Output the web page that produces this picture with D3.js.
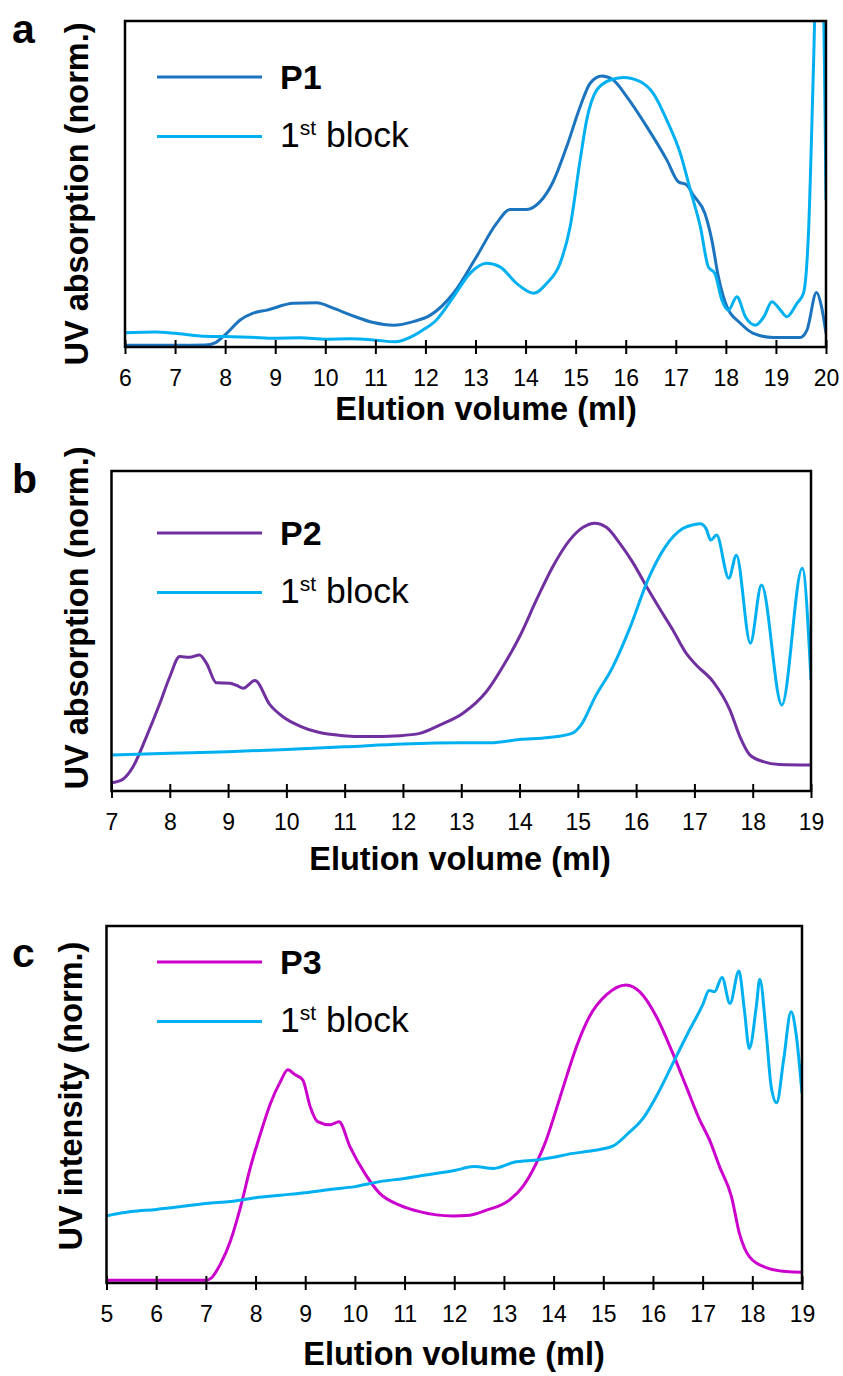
<!DOCTYPE html>
<html>
<head>
<meta charset="utf-8">
<script src="https://cdn.jsdelivr.net/npm/d3@7"></script>
<style>
  body { margin: 0; background: #fff; }
  text { font-family: "Liberation Sans", Arial, sans-serif; fill: #000; }
</style>
</head>
<body>
<div id="wrapper"></div>
<script>
// elution volume (ml) vs normalised UV signal
const aP1 = [[6.0,0.005],[7.0,0.005],[7.6,0.006],[7.8,0.013],[8.03,0.042],[8.3,0.083],[8.56,0.104],[8.83,0.113],[9.36,0.134],[9.83,0.136],[10.16,0.119],[10.56,0.095],[10.96,0.075],[11.36,0.067],[11.76,0.078],[12.09,0.097],[12.56,0.165],[13.02,0.277],[13.42,0.379],[13.69,0.422],[14.02,0.422],[14.29,0.446],[14.55,0.507],[14.82,0.614],[15.09,0.737],[15.29,0.809],[15.52,0.831],[15.75,0.819],[16.02,0.768],[16.42,0.676],[16.82,0.574],[17.05,0.507],[17.22,0.497],[17.35,0.466],[17.58,0.41],[17.72,0.328],[17.85,0.216],[18.02,0.124],[18.29,0.073],[18.55,0.042],[18.95,0.029],[19.48,0.029],[19.62,0.052],[19.81,0.167],[19.91,0.124],[20.0,0.042]];
const aBlock = [[6.0,0.044],[6.6,0.046],[7.0,0.042],[7.5,0.034],[8.0,0.032],[8.5,0.03],[9.0,0.027],[9.5,0.028],[10.0,0.024],[10.5,0.025],[11.0,0.021],[11.4,0.016],[11.7,0.03],[11.95,0.052],[12.22,0.083],[12.56,0.154],[12.89,0.226],[13.22,0.257],[13.49,0.246],[13.82,0.195],[14.16,0.165],[14.42,0.195],[14.69,0.257],[14.89,0.369],[15.09,0.574],[15.22,0.696],[15.42,0.788],[15.69,0.819],[15.95,0.827],[16.29,0.814],[16.55,0.778],[16.82,0.696],[17.09,0.594],[17.29,0.482],[17.49,0.369],[17.65,0.246],[17.78,0.226],[17.92,0.144],[18.05,0.113],[18.22,0.154],[18.39,0.093],[18.59,0.067],[18.76,0.093],[18.92,0.139],[19.09,0.113],[19.22,0.093],[19.42,0.134],[19.55,0.165],[19.65,0.349],[19.75,0.86],[19.84,1.35],[19.93,1.2],[20.0,0.45]];

const bP2 = [[7.0,0.026],[7.17,0.034],[7.37,0.076],[7.6,0.17],[7.83,0.274],[8.0,0.357],[8.17,0.42],[8.34,0.418],[8.51,0.425],[8.63,0.399],[8.8,0.338],[9.03,0.337],[9.15,0.33],[9.26,0.321],[9.46,0.345],[9.72,0.269],[9.94,0.232],[10.23,0.203],[10.52,0.185],[10.97,0.173],[11.37,0.17],[11.95,0.173],[12.29,0.18],[12.63,0.206],[13.03,0.243],[13.43,0.31],[13.78,0.409],[14.0,0.482],[14.29,0.597],[14.57,0.701],[14.86,0.784],[15.09,0.824],[15.29,0.837],[15.49,0.824],[15.72,0.774],[15.95,0.712],[16.18,0.638],[16.4,0.571],[16.63,0.503],[16.86,0.43],[17.03,0.394],[17.32,0.342],[17.61,0.253],[17.78,0.17],[17.95,0.113],[18.18,0.092],[18.46,0.083],[19.0,0.081]];
const bBlock = [[7.0,0.1125],[8.0,0.118],[9.0,0.123],[10.0,0.13],[11.0,0.138],[12.0,0.147],[13.0,0.151],[13.5,0.151],[14.0,0.161],[14.5,0.167],[14.9,0.18],[15.05,0.205],[15.3,0.295],[15.6,0.388],[15.9,0.513],[16.2,0.659],[16.5,0.763],[16.8,0.82],[17.0,0.833],[17.1,0.835],[17.2,0.82],[17.28,0.784],[17.38,0.8],[17.59,0.665],[17.72,0.737],[17.96,0.462],[18.15,0.644],[18.5,0.269],[18.85,0.696],[19.0,0.347]];

const cP3 = [[5.0,0.008],[6.0,0.008],[7.0,0.008],[7.1,0.013],[7.3,0.055],[7.5,0.12],[7.7,0.214],[7.9,0.326],[8.1,0.419],[8.3,0.503],[8.5,0.564],[8.65,0.597],[8.8,0.583],[8.95,0.569],[9.1,0.494],[9.25,0.452],[9.5,0.443],[9.68,0.452],[9.9,0.382],[10.2,0.307],[10.5,0.251],[10.9,0.218],[11.3,0.2],[11.97,0.188],[12.31,0.19],[12.65,0.204],[13.11,0.232],[13.38,0.27],[13.65,0.335],[13.85,0.4],[14.05,0.485],[14.26,0.578],[14.46,0.662],[14.72,0.746],[15.06,0.807],[15.46,0.835],[15.73,0.816],[16.07,0.746],[16.4,0.643],[16.67,0.55],[16.94,0.457],[17.14,0.4],[17.34,0.326],[17.58,0.242],[17.74,0.139],[17.94,0.074],[18.28,0.043],[18.68,0.032],[19.0,0.03]];
const cBlock = [[5.0,0.188],[5.5,0.2],[6.0,0.206],[6.5,0.214],[7.0,0.223],[7.5,0.228],[8.0,0.239],[8.5,0.246],[9.0,0.253],[9.5,0.262],[10.0,0.27],[10.5,0.284],[11.0,0.293],[11.3,0.3],[12.0,0.315],[12.4,0.326],[12.8,0.321],[13.2,0.338],[13.7,0.345],[14.0,0.352],[14.3,0.361],[14.8,0.371],[15.2,0.384],[15.5,0.419],[15.8,0.461],[16.1,0.531],[16.4,0.615],[16.7,0.699],[17.0,0.779],[17.13,0.819],[17.24,0.816],[17.39,0.856],[17.55,0.783],[17.73,0.874],[17.84,0.765],[17.94,0.657],[18.08,0.774],[18.15,0.851],[18.28,0.699],[18.38,0.55],[18.49,0.505],[18.63,0.625],[18.78,0.76],[18.88,0.699],[19.0,0.531]];

const seriesNames = ["P1", "P2", "P3"];
const blockName = "1st block";
const xTitle = "Elution volume (ml)";
const yTitles = ["UV absorption (norm.)", "UV absorption (norm.)", "UV intensity (norm.)"];
const xDomains = [[6, 20], [7, 19], [5, 19]];

const blockColor = "#00b0f0";

const panels = [
  { letter: "a", main: aP1, block: aBlock, color: "#1c74bf", name: seriesNames[0], yTitle: yTitles[0], dom: xDomains[0],
    left: 125, right: 826, top: 21, bottom: 347, letterY: 43, yTitleX: 88, yTitleY: 194, xTitleX: 486, xTitleY: 420, legY: 77 },
  { letter: "b", main: bP2, block: bBlock, color: "#7030a0", name: seriesNames[1], yTitle: yTitles[1], dom: xDomains[1],
    left: 111.5, right: 811, top: 471, bottom: 791, letterY: 493, yTitleX: 88, yTitleY: 618, xTitleX: 460, xTitleY: 870, legY: 533 },
  { letter: "c", main: cP3, block: cBlock, color: "#cc00cc", name: seriesNames[2], yTitle: yTitles[2], dom: xDomains[2],
    left: 106.5, right: 802, top: 926, bottom: 1283, letterY: 967, yTitleX: 82, yTitleY: 1096, xTitleX: 454, xTitleY: 1365, legY: 962 }
];

const width = 843, height = 1376;

const svg = d3.select("#wrapper").append("svg")
  .attr("width", width)
  .attr("height", height);

svg.append("rect").attr("width", width).attr("height", height).attr("fill", "#fff");

panels.forEach(function (p, i) {
  const x = d3.scaleLinear().domain(p.dom).range([p.left, p.right]);
  const y = d3.scaleLinear().domain([0, 1]).range([p.bottom, p.top]);

  svg.append("clipPath").attr("id", "clip" + i)
    .append("rect")
    .attr("x", p.left).attr("y", p.top)
    .attr("width", p.right - p.left).attr("height", p.bottom - p.top);

  const line = d3.line()
    .x(function (d) { return x(d[0]); })
    .y(function (d) { return y(d[1]); })
    .curve(d3.curveMonotoneX);

  const plot = svg.append("g").attr("clip-path", "url(#clip" + i + ")");
  plot.append("path").datum(p.main)
    .attr("d", line).attr("fill", "none")
    .attr("stroke", p.color).attr("stroke-width", 3)
    .attr("stroke-linejoin", "round");
  plot.append("path").datum(p.block)
    .attr("d", line).attr("fill", "none")
    .attr("stroke", blockColor).attr("stroke-width", 3)
    .attr("stroke-linejoin", "round");

  // frame
  svg.append("rect")
    .attr("x", p.left).attr("y", p.top)
    .attr("width", p.right - p.left).attr("height", p.bottom - p.top)
    .attr("fill", "none").attr("stroke", "#000").attr("stroke-width", 2.5);

  // x axis, ticks cross the frame
  const ax = svg.append("g")
    .attr("transform", "translate(0," + p.bottom + ")")
    .call(d3.axisBottom(x).tickValues(d3.range(p.dom[0], p.dom[1] + 1)).tickSize(7).tickFormat(d3.format("d")));
  ax.select(".domain").remove();
  ax.selectAll(".tick line").attr("y1", -7).attr("y2", 7).attr("stroke", "#000").attr("stroke-width", 2);
  ax.selectAll(".tick text")
    .attr("y", 39).attr("dy", null)
    .style("font-family", "'Liberation Sans', Arial, sans-serif")
    .style("font-size", "23px").attr("fill", "#000");

  svg.append("text")
    .attr("x", p.xTitleX).attr("y", p.xTitleY)
    .attr("text-anchor", "middle")
    .style("font-size", "32.5px").style("font-weight", "bold")
    .text(xTitle);

  svg.append("text")
    .attr("transform", "translate(" + p.yTitleX + "," + p.yTitleY + ") rotate(-90)")
    .attr("text-anchor", "middle")
    .style("font-size", "32.5px").style("font-weight", "bold")
    .text(p.yTitle);

  svg.append("text")
    .attr("x", 12).attr("y", p.letterY)
    .style("font-size", "41px").style("font-weight", "bold")
    .text(p.letter);

  // legend
  const leg = svg.append("g");
  leg.append("line").attr("x1", 157).attr("x2", 262).attr("y1", p.legY).attr("y2", p.legY)
    .attr("stroke", p.color).attr("stroke-width", 3);
  leg.append("text").attr("x", 280).attr("y", p.legY + 12)
    .style("font-size", "34px").style("font-weight", "bold")
    .text(p.name);
  leg.append("line").attr("x1", 157).attr("x2", 262).attr("y1", p.legY + 59.5).attr("y2", p.legY + 59.5)
    .attr("stroke", blockColor).attr("stroke-width", 3);
  const t = leg.append("text").attr("x", 280).attr("y", p.legY + 70)
    .style("font-size", "35.5px");
  t.append("tspan").text(blockName.slice(0, 1));
  t.append("tspan").attr("dy", -12).style("font-size", "21px").text(blockName.slice(1, 3));
  t.append("tspan").attr("dy", 12).text(blockName.slice(3));
});
</script>
</body>
</html>
